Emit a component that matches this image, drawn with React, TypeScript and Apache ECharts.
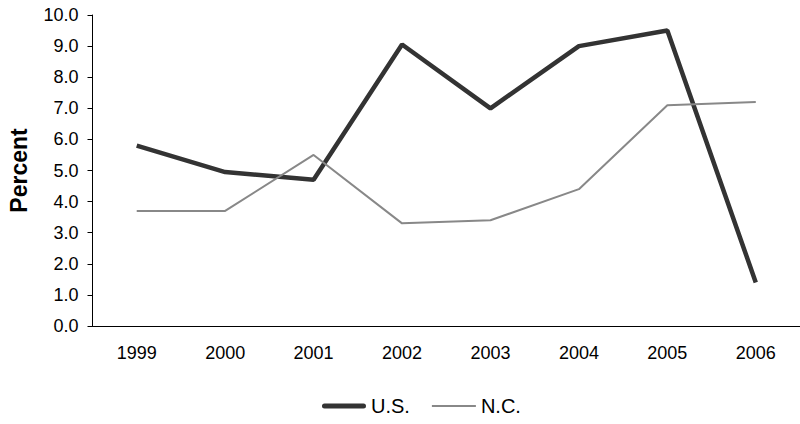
import React, { useEffect, useRef } from "react";
import * as echarts from "echarts";

const years = ["1999", "2000", "2001", "2002", "2003", "2004", "2005", "2006"];
const usValues = [5.8, 4.95, 4.7, 9.05, 7.0, 9.0, 9.5, 1.4];
const ncValues = [3.7, 3.7, 5.5, 3.3, 3.4, 4.4, 7.1, 7.2];

export default function App() {
  const ref = useRef<HTMLDivElement>(null);
  useEffect(() => {
    if (!ref.current) return;
    const chart = echarts.init(ref.current, undefined, { renderer: "svg" });
    const font = "Liberation Sans, Arial, sans-serif";
    chart.setOption({
      animation: false,
      textStyle: { fontFamily: font },
      grid: { left: 92.5, width: 716, top: 15, bottom: 98 },
      legend: {
        top: 391,
        left: 317,
        itemWidth: 44,
        itemHeight: 14,
        itemGap: 22,
        textStyle: { fontSize: 20, color: "#000", fontFamily: font },
        data: [
          {
            name: "U.S.",
            itemStyle: { color: "#333" },
            icon: "path://M2.5,0 L41.5,0 A2.5,2.5 0 0 1 41.5,5 L2.5,5 A2.5,2.5 0 0 1 2.5,0 Z",
          },
          { name: "N.C.", itemStyle: { color: "#888" }, icon: "path://M0,0 L42,0 L42,2 L0,2 Z" },
        ],
      },
      graphic: [
        {
          type: "text",
          x: 18.5,
          y: 170.5,
          rotation: Math.PI / 2,
          style: {
            text: "Percent",
            fontSize: 23,
            fontWeight: "bold",
            fontFamily: font,
            fill: "#000",
            align: "center",
            verticalAlign: "middle",
          },
        },
      ],
      xAxis: {
        type: "category",
        data: years,
        boundaryGap: true,
        axisLine: { lineStyle: { color: "#000", width: 1 } },
        axisTick: { length: 5, lineStyle: { color: "#000" } },
        axisLabel: { fontSize: 18, color: "#000", margin: 18, fontFamily: font },
      },
      yAxis: {
        type: "value",
        min: 0,
        max: 10,
        interval: 1,
        axisLine: { show: true, lineStyle: { color: "#000", width: 1 } },
        axisTick: { show: true, length: 5, lineStyle: { color: "#000" } },
        splitLine: { show: false },
        axisLabel: {
          fontSize: 18,
          color: "#000",
          margin: 14,
          fontFamily: font,
          formatter: (v: number) => v.toFixed(1),
        },
      },
      series: [
        {
          name: "U.S.",
          type: "line",
          data: usValues,
          symbol: "none",
          lineStyle: { color: "#333", width: 4.5 },
          itemStyle: { color: "#333" },
        },
        {
          name: "N.C.",
          type: "line",
          data: ncValues,
          symbol: "none",
          lineStyle: { color: "#888", width: 2 },
          itemStyle: { color: "#888" },
        },
      ],
    });
    return () => chart.dispose();
  }, []);
  return <div ref={ref} style={{ width: 800, height: 424, position: "absolute", left: 0, top: 0 }} />;
}
